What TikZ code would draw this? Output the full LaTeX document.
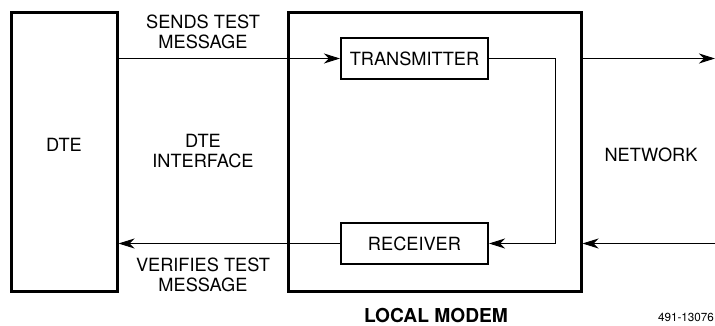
\documentclass[tikz,border=0pt]{standalone}
\usepackage{fontspec}
\setmainfont{TeX Gyre Heros}
\usetikzlibrary{arrows.meta,positioning}

\begin{document}
\begin{tikzpicture}[x=1pt, y=-1pt, >={Stealth[length=16pt,width=10pt,inset=5pt]},
  font=\fontsize{18.2}{20}\selectfont,
  outerbox/.style={draw, line width=3pt, inner sep=0pt},
  unitbox/.style={draw, line width=2pt, minimum width=147pt, minimum height=41pt, inner sep=0pt},
  flow/.style={->, line width=1pt},
  caption/.style={align=center, inner sep=0pt}]
  \useasboundingbox (0,0) rectangle (715,326);

  % boxes
  \node[outerbox, minimum width=106pt, minimum height=278pt] (dte) at (64,152) {};
  \node[outerbox, minimum width=293pt, minimum height=278pt] (modem) at (434.5,152) {};
  \node[unitbox] (tx) at (414.5,58.5) {TRANSMITTER};
  \node[unitbox] (rx) at (414.5,243.5) {RECEIVER};
  \coordinate (netout) at (715,58.5);
  \coordinate (netin) at (715,243.5);

  % texts
  \node[caption] (dtelabel) at (64,145) {DTE};
  \node[caption] (sends) at (203,32) {SENDS TEST\\MESSAGE};
  \node[caption] (iface) at (203,151) {DTE\\INTERFACE};
  \node[caption] (verifies) at (203,275) {VERIFIES TEST\\MESSAGE};
  \node[caption] (network) at (651,155) {NETWORK};
  \node[inner sep=0pt, font=\fontsize{19.2}{22}\selectfont\bfseries] (modemlabel) at (436,315) {LOCAL MODEM};
  \node[inner sep=0pt, font=\fontsize{11.7}{14}\selectfont] (fignum) at (686,317) {491-13076};

  % connectors
  \draw[flow] (dte.east |- tx) -- (tx.west);
  \draw[flow] (tx.east) -- ++(66,0) |- (rx.east);
  \draw[flow] (rx.west) -- (rx.west -| dte.east);
  \draw[flow] (modem.east |- tx) -- (netout);
  \draw[flow] (netin) -- (modem.east |- rx);
\end{tikzpicture}
\end{document}
